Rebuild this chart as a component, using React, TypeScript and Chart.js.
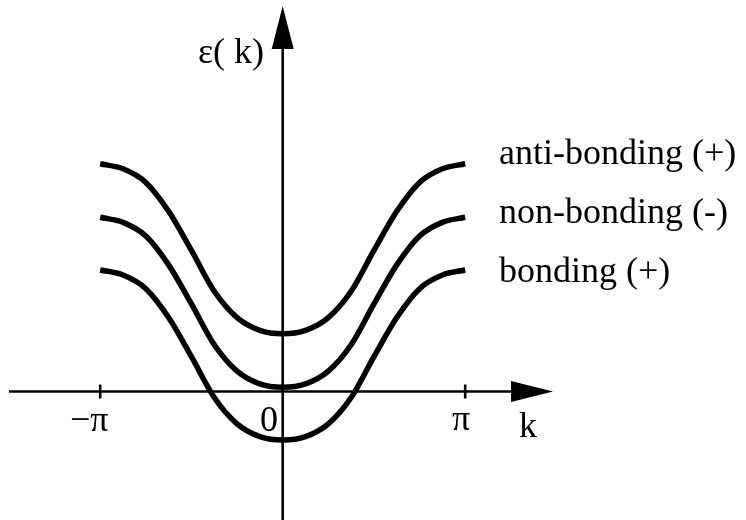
import React, { useEffect, useRef } from "react";
import { Chart, registerables } from "chart.js";

Chart.register(...registerables);

// k values in units of pi
const kValues = [-1, -0.875, -0.75, -0.625, -0.5, -0.375, -0.25, -0.125, 0, 0.125, 0.25, 0.375, 0.5, 0.625, 0.75, 0.875, 1];
const antiBonding = [2.68, 2.62, 2.46, 2.12, 1.66, 1.18, 0.87, 0.72, 0.68, 0.72, 0.87, 1.18, 1.66, 2.12, 2.46, 2.62, 2.68];
const nonBonding = [2.05, 1.99, 1.83, 1.49, 1.03, 0.55, 0.24, 0.09, 0.05, 0.09, 0.24, 0.55, 1.03, 1.49, 1.83, 1.99, 2.05];
const bonding = [1.43, 1.37, 1.21, 0.87, 0.41, -0.07, -0.38, -0.53, -0.57, -0.53, -0.38, -0.07, 0.41, 0.87, 1.21, 1.37, 1.43];
const seriesLabels = ["anti-bonding (+)", "non-bonding (-)", "bonding (+)"];
const tickValues = [-1, 0, 1];
const tickLabels = ["\u2212\u03c0", "0", "\u03c0"];
const xAxisLabel = "k";
const yAxisLabel = "\u03b5( k)";

const FONT = '36px "Liberation Serif", "Times New Roman", serif';

const diagramPlugin = {
  id: "diagram",
  afterDraw(chart: any) {
    const ctx = chart.ctx as CanvasRenderingContext2D;
    const xs = chart.scales.x;
    const ys = chart.scales.y;
    const x0 = xs.getPixelForValue(0);
    const y0 = ys.getPixelForValue(0);
    ctx.save();
    ctx.strokeStyle = "#000";
    ctx.fillStyle = "#000";
    ctx.lineWidth = 2.6;
    // horizontal axis
    ctx.beginPath();
    ctx.moveTo(9, y0);
    ctx.lineTo(515, y0);
    ctx.stroke();
    ctx.beginPath();
    ctx.moveTo(553, y0);
    ctx.lineTo(511, y0 - 10.5);
    ctx.lineTo(511, y0 + 10.5);
    ctx.closePath();
    ctx.fill();
    // vertical axis
    ctx.beginPath();
    ctx.moveTo(x0, chart.height);
    ctx.lineTo(x0, 45);
    ctx.stroke();
    ctx.beginPath();
    ctx.moveTo(x0, 6);
    ctx.lineTo(x0 - 11, 49);
    ctx.lineTo(x0 + 11, 49);
    ctx.closePath();
    ctx.fill();
    // ticks
    tickValues.forEach((v) => {
      if (v === 0) return;
      const px = xs.getPixelForValue(v);
      ctx.beginPath();
      ctx.moveTo(px, y0 - 7);
      ctx.lineTo(px, y0 + 7);
      ctx.stroke();
    });
    // text
    ctx.font = FONT;
    ctx.textBaseline = "alphabetic";
    ctx.textAlign = "left";
    ctx.fillText(tickLabels[0], 70, 431);
    ctx.fillText(tickLabels[1], 260, 431);
    ctx.fillText(tickLabels[2], 452, 430);
    ctx.fillText(xAxisLabel, 519, 437);
    ctx.fillText(yAxisLabel, 198, 63);
    ctx.fillText(seriesLabels[0], 499, 164);
    ctx.fillText(seriesLabels[1], 499, 223);
    ctx.fillText(seriesLabels[2], 499, 282);
    ctx.restore();
  },
};

export default function App() {
  const ref = useRef<HTMLCanvasElement | null>(null);
  useEffect(() => {
    document.body.style.margin = "0";
    const canvas = ref.current!;
    const mk = (vals: number[]) => kValues.map((k, i) => ({ x: k, y: vals[i] }));
    const ds = (label: string, vals: number[]) => ({
      label,
      data: mk(vals),
      borderColor: "#000",
      borderWidth: 5.5,
      pointRadius: 0,
      fill: false,
      showLine: true,
      cubicInterpolationMode: "monotone" as const,
      borderCapStyle: "butt" as const,
    });
    const chart = new Chart(canvas, {
      type: "scatter",
      data: {
        datasets: [
          ds(seriesLabels[0], antiBonding),
          ds(seriesLabels[1], nonBonding),
          ds(seriesLabels[2], bonding),
        ],
      },
      options: {
        animation: false,
        responsive: false,
        devicePixelRatio: 1,
        layout: { padding: 0 },
        plugins: { legend: { display: false }, tooltip: { enabled: false } },
        scales: {
          x: { type: "linear", display: false, min: -1.549, max: 2.5386 },
          y: { type: "linear", display: false, min: -1.5118, max: 4.606 },
        },
      },
      plugins: [diagramPlugin],
    });
    return () => chart.destroy();
  }, []);
  return <canvas ref={ref} width={746} height={520} style={{ display: "block", width: 746, height: 520 }} />;
}
